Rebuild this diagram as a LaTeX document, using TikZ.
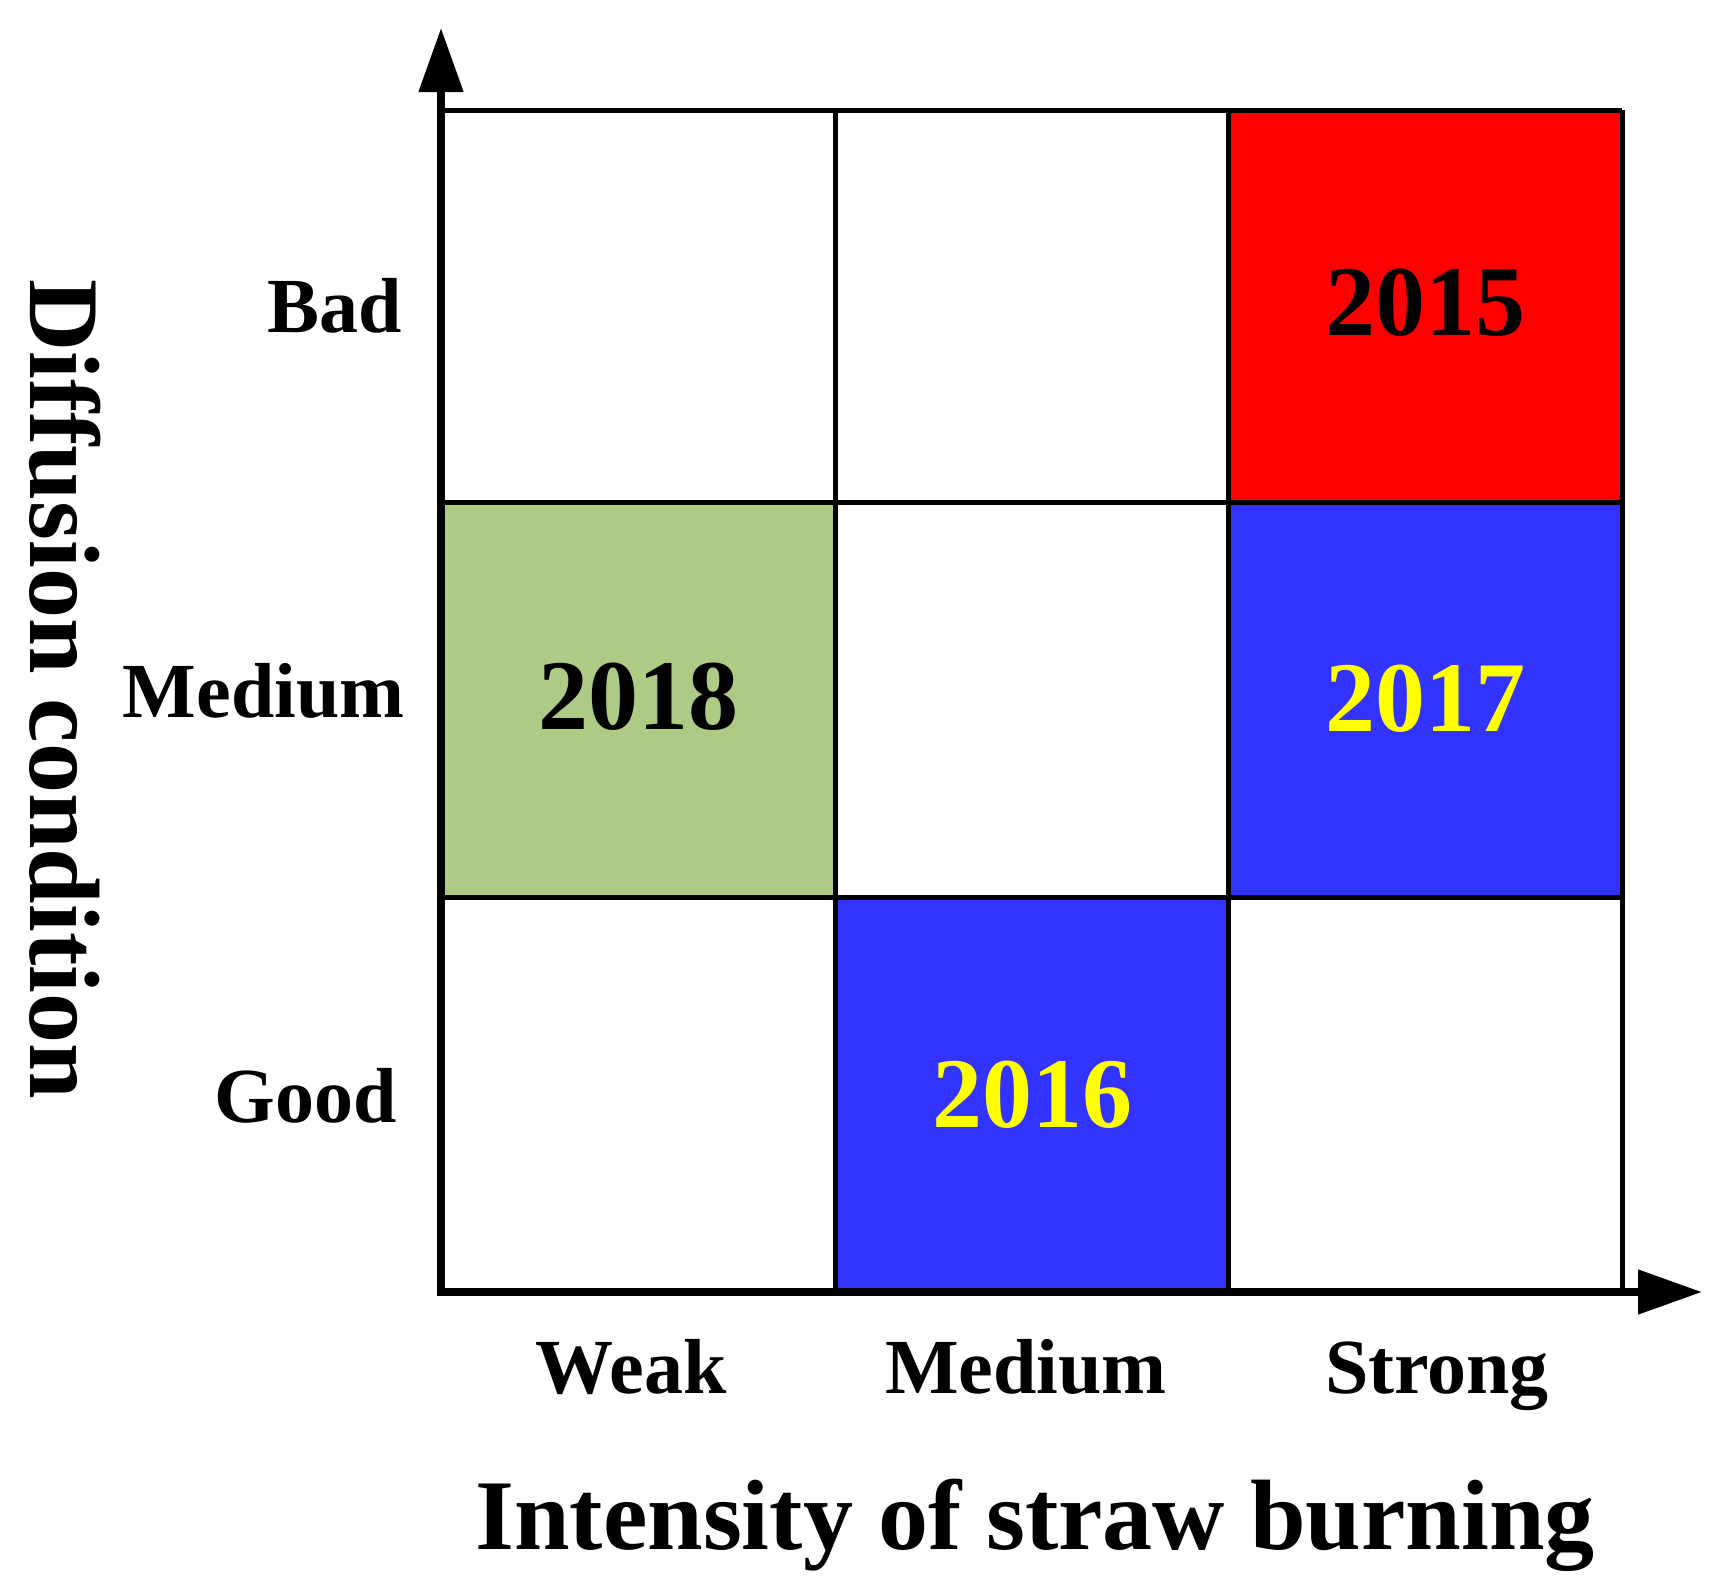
\documentclass[tikz,border=0pt]{standalone}
\usepackage{fontspec}
\setmainfont{Liberation Serif}
\usetikzlibrary{arrows.meta}
\definecolor{cellred}{RGB}{255,0,0}
\definecolor{cellblue}{RGB}{51,51,255}
\definecolor{cellgreen}{RGB}{174,203,134}
\definecolor{txtyellow}{RGB}{255,255,0}
\begin{document}
\begin{tikzpicture}[x=0.5pt,y=-0.5pt,
  big/.style={font=\fontsize{50}{60}\selectfont\bfseries, inner sep=0pt, anchor=base},
  tick/.style={font=\fontsize{39}{47}\selectfont\bfseries, inner sep=0pt},
  gridline/.style={line width=2.5pt},
  axisline/.style={line width=4pt, line join=miter, {Triangle[length=32pt,width=21.5pt]}-{Triangle[length=32pt,width=21.5pt]}},
]
\useasboundingbox (0,0) rectangle (1724,1590);
% cell fills
\fill[cellred] (1228,110) rectangle (1622,502);
\fill[cellgreen] (441,502) rectangle (835,897);
\fill[cellblue] (1228,502) rectangle (1622,897);
\fill[cellblue] (835,897) rectangle (1228,1292);
% grid
\draw[gridline] (441,110) -- (1622,110);
\draw[gridline] (441,502) -- (1622,502);
\draw[gridline] (441,897) -- (1622,897);
\draw[gridline] (835,110) -- (835,1292);
\draw[gridline] (1228,110) -- (1228,1292);
\draw[gridline] (1622,110) -- (1622,1292);
% axes
\coordinate (O) at (441,1292);
\coordinate (ytip) at (441,28);
\coordinate (xtip) at (1702,1292);
\draw[axisline] (ytip) -- (O) -- (xtip);
% tick labels
\node[tick, anchor=base] (weak) at (631,1393) {Weak};
\node[tick, anchor=base] (medx) at (1026,1393) {Medium};
\node[tick, anchor=base] (strong) at (1437,1393) {Strong};
\node[tick, anchor=base east] (bad) at (402,332) {Bad};
\node[tick, anchor=base east] (medy) at (405,717) {Medium};
\node[tick, anchor=base east] (good) at (397,1122) {Good};
% years
\node[big] (y2015) at (1425,335) {2015};
\node[big] (y2018) at (638,729) {2018};
\node[big, text=txtyellow] (y2017) at (1425,731) {2017};
\node[big, text=txtyellow] (y2016) at (1032,1127) {2016};
% titles
\node[big] (xtitle) at (1035,1549) {Intensity of straw burning};
\node[big, rotate=-90] (ytitle) at (31,689) {Diffusion condition};
\end{tikzpicture}
\end{document}
